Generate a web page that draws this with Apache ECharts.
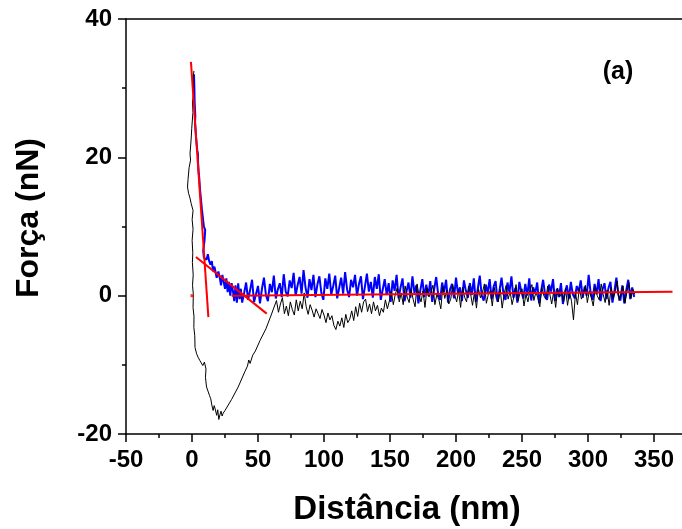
<!DOCTYPE html>
<html>
<head>
<meta charset="utf-8">
<script src="https://cdn.jsdelivr.net/npm/echarts@6/dist/echarts.min.js"></script>
<style>html,body{margin:0;padding:0;background:#fff;overflow:hidden}#c{width:700px;height:529px}</style>
</head>
<body>
<div id="c"></div>
<script>
var xTicks = [-50, 0, 50, 100, 150, 200, 250, 300, 350];
var yTicks = [-20, 0, 20, 40];

// retraction curve (black)
var retractCurve = [
[1.5,32.5],[0.8,31.5],[1.3,29.5],[0.4,28],[0.7,26.5],[-0.2,24.2],[-0.6,22.8],[-1.5,20.5],[-1.1,19.6],[-2.2,18.5],
[-3,16.8],[-3.4,15.7],[-2.6,14.8],[-1.5,14.1],[-0.6,13.3],[0.8,12.3],[0.1,11],[0.8,9.6],[0.1,8],[0.6,6.2],
[0.3,4.8],[0.9,3],[0.4,1.5],[1,0.2],[0.8,-1.7],[1.5,-3],[1.4,-4.6],[2.1,-5.8],[2.3,-7.5],[3.5,-8.4],
[4.6,-8.9],[6,-9.4],[7.2,-9.3],[8.2,-10.1],[9.4,-9.6],[10.6,-10.6],[10.2,-11.8],[11,-13.2],[12.1,-13.1],[13.2,-14.4],
[14.2,-14.9],[15,-15.8],[16,-16.6],[16.8,-15.9],[17.6,-16.4],[18.7,-17.3],[19.5,-16.5],[20.3,-17.9],[21.2,-17.2],[22,-16.7],
[22.8,-17.4],[23.6,-17],[25,-16.6],
[30,-15],[35,-13.2],[40,-11],[42,-10.2],[43,-9.3],[44,-9.8],[46,-8.6],[48,-8],[51.5,-6.5],[56,-4.8],[60,-2.8],
[64,-0.7],[65.5,-2.4],[67,-1.2],[68.5,-0.3],[70,-2.6],[71.5,-1.5],[73,-2.9],[74.5,-0.9],[76,-2.0],[77.5,-2.8],
[79,-0.6],[80.5,-2.2],[82,-0.8],[83.5,-1.9],[85,0.4],[86.5,-1.6],[88,-2.7],[89.5,-1.3],[91,-2.1],[92.5,-3.1],
[94,-1.9],[95.5,-2.6],[97,-3.3],[98.5,-2.0],[100,-2.8],[101.5,-3.9],[103,-2.5],[104.5,-3.5],[106,-2.9],[107.5,-4.3],
[109,-4.9],[110.5,-3.7],[112,-4.4],[113.5,-3.2],[115,-4.6],[116.5,-2.7],[118,-3.9],[119.5,-3.4],[121,-2.2],[122.5,-3.6],
[124,-1.6],[125.5,-3.0],[127,-1.1],[128.5,-2.4],[130,-0.9],[131.5,-0.5],[133,-2.3],[134.5,-1.2],[136,-2.6],[137.5,-0.9],
[139,-2.2],[140.5,-1.4],[142,-2.9],[143.5,-1.8],[145,-2.4],[146.5,-0.6],[148,-1.9],[149.5,-0.8],[151,0.6],[152.5,-1.3],
[154,0.2],[155.5,1.1],[157,-0.9],[158.5,0.4],[160,-1.3],[161.5,1.4],[163,-0.2],[164.5,-1.0],[166,0.9],[167.5,-0.5],
[169,-1.6],[170.5,1.7],[172,0.0],[173.5,-0.9],[175,0.7],[176.5,-1.7],[178,1.1],[179.5,-0.2],[181,0.5],[182.5,1.5],
[184,-1.3],[185.5,0.2],[187,-0.6],[188.5,-1.9],[190,1.3],[191.5,-0.4],[193,0.8],[194.5,-1.2],[196,-0.5],[197.5,1.6],
[199,0.1],[200.5,-0.9],[202,0.7],[203.5,-1.7],[205,1.2],[206.5,-0.2],[208,-0.9],[209.5,1.4],[211,0.3],[212.5,-1.4],
[214,0.5],[215.5,-1.8],[217,1.0],[218.5,-0.3],[220,0.4],[221.5,1.7],[223,-1.1],[224.5,0.2],[226,0.7],[227.5,-1.5],
[229,1.2],[230.5,-0.4],[232,-0.9],[233.5,0.9],[235,-1.8],[236.5,0.3],[238,1.5],[239.5,-0.5],[241,0.6],[242.5,-1.3],
[244,0.0],[245.5,1.6],[247,-0.8],[248.5,0.4],[250,1.0],[251.5,-1.5],[253,0.2],[254.5,-0.9],[256,0.8],[257.5,1.6],
[259,-0.7],[260.5,0.5],[262,-0.3],[263.5,-1.6],[265,1.2],[266.5,0.0],[268,-0.5],[269.5,1.4],[271,0.3],[272.5,-1.2],
[274,0.6],[275.5,-1.7],[277,1.1],[278.5,-0.2],[280,0.4],[281.5,-0.9],[283,1.0],[284.5,-1.4],[286,0.5],[287.5,-0.8],
[289,-3.5],[290.5,0.4],[292,-1.3],[293.5,1.1],[295,-0.5],[296.5,0.2],[298,1.5],[299.5,-1.0],[301,0.7],[302.5,-0.3],
[304,-1.5],[305.5,1.3],[307,0.0],[308.5,-0.6],[310,1.7],[311.5,0.2],[313,-1.0],[314.5,0.8],[316,-1.4],[317.5,1.2],
[319,-0.4],[320.5,0.5],[322,2.1],[323.5,-0.7],[325,0.3],[326.5,1.4],[328,-1.1],[329.5,0.6],[331,1.9],[332.5,-0.4],
[334,0.9],[335.5,0.2]
];

// approach curve (blue)
var approachCurve = [
[1.5,32],[1.8,30],[2,28],[2.5,26],[2.3,25],[3,23],[3.5,22],[4,21],[4.5,20.5],[4.5,19.5],
[5,18],[5.5,17],[6,15.5],[6.5,14.5],[7,13.5],[7.5,12.5],[8.5,10.8],[9,10],[10,9.5],[10.6,9.4],
[9.5,8],[8.5,6.5],[9,5.5],[11,5.2],[12,6],[13,5],[14,4.5],[15,5],[16,3.5],[17,4.2],
[18.7,2.6],[20,3.5],[21,2.6],[22,1.5],[23,3],[25,1],[26,2.5],[27,0.5],[28,2],[29,0],
[30,1.8],[31,0.7],[32,-0.8],[33,1.5],[34,-1],[35,1.8],[36,-0.5],[37,1],
[38,-1.0],[39.5,0.4],[41,1.9],[42.5,-0.6],[44,0.8],[45.5,2.3],[47,-0.9],[48.5,0.2],[50,1.4],[51.5,-1.1],
[53,1.0],[54.5,2.6],[56,0.1],[57.5,-0.8],[59,1.7],[60.5,0.5],[62,2.9],[63.5,-0.4],[65,0.9],[66.5,1.8],
[68,-0.2],[69.5,3.1],[71,0.6],[72.5,-0.1],[74,2.2],[75.5,1.1],[77,3.3],[78.5,0.0],[80,1.5],[81.5,2.7],
[83,0.3],[84.5,3.7],[86,1.2],[87.5,-0.3],[89,2.4],[90.5,0.8],[92,3.0],[93.5,-0.2],[95,1.6],[96.5,2.8],
[98,0.4],[99.5,-0.6],[101,2.5],[102.5,1.0],[104,3.2],[105.5,0.2],[107,1.4],[108.5,2.9],[110,-0.4],[111.5,1.1],
[113,2.6],[114.5,0.3],[116,3.4],[117.5,0.9],[119,-0.2],[120.5,2.3],[122,1.2],[123.5,3.0],[125,0.0],[126.5,1.7],
[128,2.8],[129.5,-0.5],[131,1.3],[132.5,3.2],[134,0.6],[135.5,2.0],[137,-0.3],[138.5,2.7],[140,1.0],[141.5,3.1],
[143,-0.6],[144.5,0.9],[146,2.4],[147.5,0.1],[149,1.8],[150.5,-0.9],[152,2.2],[153.5,0.7],[155,3.0],[156.5,-0.4],
[158,1.2],[159.5,2.5],[161,-0.8],[162.5,0.6],[164,1.9],[165.5,-0.3],[167,2.8],[168.5,0.4],[170,1.5],[171.5,-1.1],
[173,0.8],[174.5,2.4],[176,-0.2],[177.5,1.6],[179,0.0],[180.5,2.1],[182,-0.9],[183.5,1.0],[185,2.7],[186.5,0.2],
[188,-0.6],[189.5,1.9],[191,0.5],[192.5,2.3],[194,-1.0],[195.5,0.9],[197,1.7],[198.5,-0.4],[200,2.6],[201.5,0.3],
[203,1.2],[204.5,-0.8],[206,2.2],[207.5,0.7],[209,-0.3],[210.5,1.8],[212,0.1],[213.5,2.5],[215,-0.9],[216.5,1.0],
[218,2.9],[219.5,0.0],[221,-0.7],[222.5,1.6],[224,0.4],[225.5,2.4],[227,-0.5],[228.5,1.3],[230,2.1],[231.5,-0.9],
[233,0.8],[234.5,2.6],[236,0.2],[237.5,-0.6],[239,1.9],[240.5,0.5],[242,2.8],[243.5,-0.3],[245,1.1],[246.5,-1.0],
[248,2.0],[249.5,0.6],[251,-0.4],[252.5,1.7],[254,0.0],[255.5,2.5],[257,-0.7],[258.5,1.2],[260,0.3],[261.5,1.9],
[263,-1.1],[264.5,0.7],[266,2.3],[267.5,0.1],[269,-0.6],[270.5,1.6],[272,0.6],[273.5,2.4],[275,-0.8],[276.5,1.0],
[278,-0.2],[279.5,1.8],[281,-1.2],[282.5,0.5],[284,1.5],[285.5,-0.5],[287,2.0],[288.5,0.2],[290,-0.4],[291.5,1.4],
[293,0.6],[294.5,2.2],[296,-0.3],[297.5,1.3],[299,0.0],[300.5,3.0],[302,0.4],[303.5,-0.6],[305,1.7],[306.5,0.2],
[308,2.4],[309.5,-0.8],[311,0.9],[312.5,1.8],[314,-0.5],[315.5,1.1],[317,2.0],[318.5,-1.0],[320,0.6],[321.5,2.6],
[323,0.1],[324.5,-0.7],[326,1.5],[327.5,-1.1],[329,0.8],[330.5,2.3],[332,-0.5],[333.5,1.2],[335,-0.2]
];

// linear fits (red)
var fitContact = [[-0.8,33.8],[12.4,-3.1]];
var fitTransition = [[3,5.6],[56.6,-2.6]];
var fitBaseline = [[30,0],[364,0.55]];
var originPoint = [[0,0]];

var FONT = "'Liberation Sans', Arial, Helvetica, sans-serif";
var chart = echarts.init(document.getElementById('c'));
var axisCommon = {
  axisLine: {show: true, onZero: false, lineStyle: {color: '#000', width: 1.5}},
  axisTick: {show: true, inside: false, length: 8, lineStyle: {color: '#000', width: 1.5}},
  minorTick: {show: true, splitNumber: 2, length: 4, lineStyle: {color: '#000', width: 1.5}},
  splitLine: {show: false},
  axisLabel: {color: '#000', fontSize: 24, fontWeight: 'bold', fontFamily: FONT, margin: 14}
};
function redLine(d) {
  return {type: 'line', data: d, showSymbol: false, symbol: 'none', silent: true,
    lineStyle: {color: '#ff0000', width: 2}, z: 5};
}
chart.setOption({
  animation: false,
  backgroundColor: '#fff',
  grid: {left: 126, right: 13, top: 19, bottom: 95},
  xAxis: [
    Object.assign({}, axisCommon, {
      type: 'value', min: xTicks[0], max: 375, interval: 50, position: 'bottom',
      axisLabel: Object.assign({}, axisCommon.axisLabel, {
        formatter: function (v) { return xTicks.indexOf(v) >= 0 ? String(v) : ''; }
      })
    }),
    {type: 'value', min: xTicks[0], max: 375, position: 'top',
      axisLine: {show: true, onZero: false, lineStyle: {color: '#000', width: 1.5}},
      axisTick: {show: false}, axisLabel: {show: false}, splitLine: {show: false}}
  ],
  yAxis: Object.assign({}, axisCommon, {
    type: 'value', min: yTicks[0], max: yTicks[yTicks.length - 1], interval: 20
  }),
  graphic: [
    {type: 'text', x: 29, y: 218, rotation: Math.PI / 2,
      style: {text: 'Força (nN)', font: 'bold 32px ' + FONT, fill: '#000', textAlign: 'center', textVerticalAlign: 'middle'}},
    {type: 'text', x: 407, y: 510,
      style: {text: 'Distância (nm)', font: 'bold 33px ' + FONT, fill: '#000', textAlign: 'center', textVerticalAlign: 'middle'}},
    {type: 'text', x: 618, y: 72,
      style: {text: '(a)', font: 'bold 25px ' + FONT, fill: '#000', textAlign: 'center', textVerticalAlign: 'middle'}}
  ],
  series: [
    {type: 'line', data: approachCurve, showSymbol: false, symbol: 'none',
      lineStyle: {color: '#0000ff', width: 2}, z: 2},
    {type: 'line', data: retractCurve, showSymbol: false, symbol: 'none',
      lineStyle: {color: '#000', width: 1}, z: 3},
    redLine(fitContact),
    redLine(fitTransition),
    redLine(fitBaseline),
    {type: 'scatter', data: originPoint, symbol: 'rect', symbolSize: 3, itemStyle: {color: '#ff0000'}, z: 6}
  ]
});
</script>
</body>
</html>
